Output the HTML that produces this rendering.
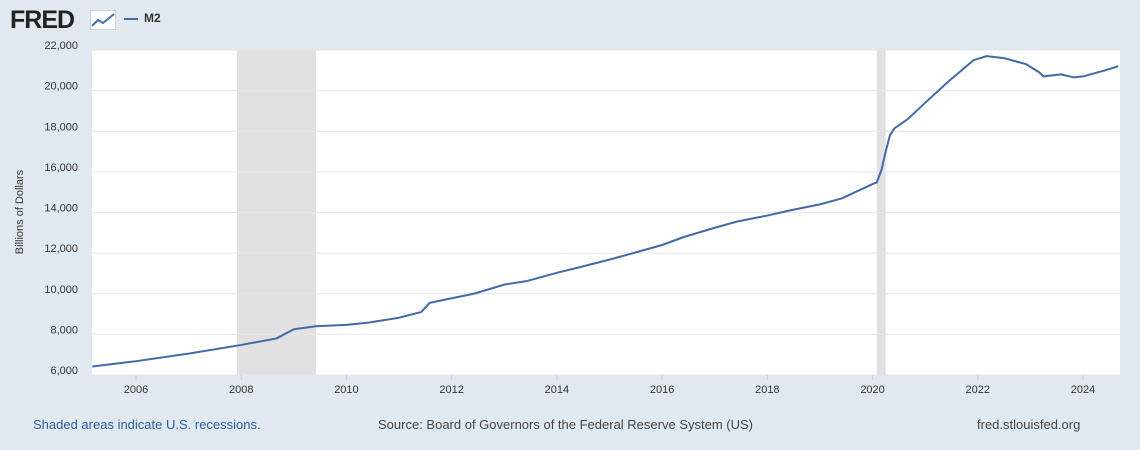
<!DOCTYPE html>
<html><head><meta charset="utf-8"><style>
body{margin:0;width:1140px;height:450px;background:#e1e9f0;font-family:"Liberation Sans",sans-serif;overflow:hidden;position:relative}
.t{position:absolute;white-space:nowrap}
</style></head><body>
<div class="t" style="left:10px;top:6px;font-size:25px;font-weight:bold;color:#222;letter-spacing:-1px">FRED</div>
<svg class="t" style="left:90px;top:10px" width="26" height="20"><rect x="0" y="0" width="26" height="20" fill="#fff" stroke="#aab" /><polyline points="2,16 8,10 13,13 24,4" fill="none" stroke="#4a70a8" stroke-width="2"/></svg>
<div class="t" style="left:124px;top:11px;font-size:12px;font-weight:bold;color:#333"><span style="display:inline-block;width:14px;height:2px;background:#4269a8;vertical-align:middle;margin-right:6px"></span>M2</div>
<svg id="c" class="t" style="left:0;top:0" width="1140" height="450"></svg>
<div class="t" style="left:33px;top:417px;font-size:13px;color:#2a5b9e">Shaded areas indicate U.S. recessions.</div>
<div class="t" style="left:378px;top:417px;font-size:13px;color:#444">Source: Board of Governors of the Federal Reserve System (US)</div>
<div class="t" style="left:977px;top:417px;font-size:13px;color:#444">fred.stlouisfed.org</div>
<script>
const dates=[2005.17,2006.0,2007.0,2008.0,2008.67,2009.0,2009.42,2010.0,2010.42,2011.0,2011.42,2011.58,2012.0,2012.42,2013.0,2013.42,2014.0,2014.42,2015.0,2015.42,2016.0,2016.42,2017.0,2017.42,2018.0,2018.42,2019.0,2019.42,2020.0,2020.08,2020.17,2020.25,2020.33,2020.42,2020.67,2021.0,2021.42,2021.92,2022.17,2022.5,2022.92,2023.17,2023.25,2023.58,2023.83,2024.0,2024.42,2024.67];
const values=[6420,6680,7050,7480,7800,8250,8400,8470,8580,8820,9100,9550,9780,10000,10450,10620,11030,11300,11680,11980,12400,12800,13250,13550,13850,14100,14400,14700,15400,15480,16100,17000,17800,18150,18600,19400,20400,21500,21700,21600,21300,20900,20700,20800,20650,20700,21000,21200];
const yTicks=[6000,8000,10000,12000,14000,16000,18000,20000,22000];
const xTicks=[2006,2008,2010,2012,2014,2016,2018,2020,2022,2024];
const recessions=[[2007.92,2009.42],[2020.08,2020.25]];
const L=92,R=1120,T=50,B=375;
const x=d=>136+(d-2006)*(1083-136)/18;
const y=v=>B-(v-6000)*(B-T)/16000;
const s=document.getElementById('c');const ns='http://www.w3.org/2000/svg';
function mk(t,a){const e=document.createElementNS(ns,t);for(const k in a)e.setAttribute(k,a[k]);s.appendChild(e);return e;}
let e=mk('rect',{x:L,y:T,width:R-L,height:B-T,fill:'#fff'});


recessions.forEach(r=>{const e=mk('rect',{x:x(r[0]),y:T,width:x(r[1])-x(r[0]),height:B-T,fill:'#e1e1e1'});

});
yTicks.forEach(v=>{const g=mk('line',{x1:L,x2:R,y1:y(v),y2:y(v),stroke:'#e6e6e6'});


const t=mk('text',{x:78,y:y(v)-1,'text-anchor':'end','font-size':11,fill:'#333','font-family':'Liberation Sans'});t.textContent=v.toLocaleString('en-US');

});
xTicks.forEach(d=>{const t=mk('text',{x:x(d),y:393,'text-anchor':'middle','font-size':11,fill:'#333','font-family':'Liberation Sans'});t.textContent=d;


const k=mk('line',{x1:x(d),x2:x(d),y1:B,y2:B+5,stroke:'#ccc'});

});
const yt=mk('text',{transform:'translate(23,212) rotate(-90)','text-anchor':'middle','font-size':11,fill:'#333','font-family':'Liberation Sans'});yt.textContent='Billions of Dollars';


const p=mk('polyline',{points:dates.map((d,i)=>x(d)+','+y(values[i])).join(' '),fill:'none',stroke:'#4269a8','stroke-width':2,'stroke-linejoin':'round'});


</script>
</body></html>
